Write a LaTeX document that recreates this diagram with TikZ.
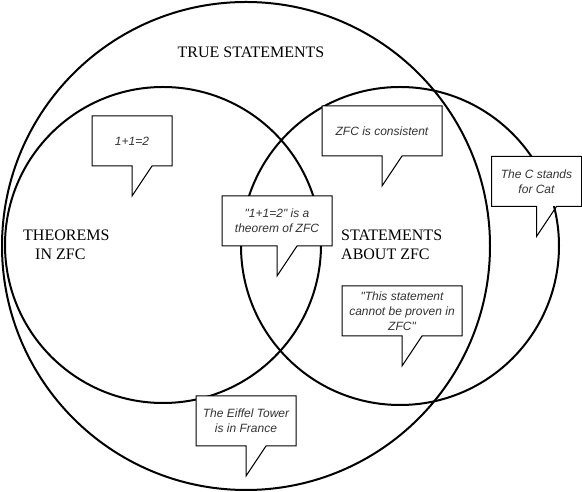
\documentclass[tikz,border=0pt]{standalone}
\usepackage{fontspec}
\setmainfont{Liberation Serif}
\setsansfont{Liberation Sans}
\usetikzlibrary{shapes,arrows,positioning,calc}

\begin{document}
\begin{tikzpicture}[x=1pt, y=1pt]
    \tikzstyle{set} = [circle, draw, line width=2pt, inner sep=0pt]
    \tikzstyle{setname} = [inner sep=0pt, align=left, font=\fontsize{16}{19}\selectfont]
    \tikzstyle{note} = [rectangle, fill=white, inner sep=0pt, outer sep=0pt, minimum height=50pt, align=center, text=black!80, font=\sffamily\itshape\fontsize{12}{15}\selectfont]
    \tikzstyle{bubble} = [draw, line width=1pt, line join=miter]

    \useasboundingbox (0,0) rectangle (582,492);

    % Sets
    \node[set, minimum size=488pt] (true) at (246,246) {};
    \node[set, minimum size=316pt] (thm) at (163,247) {};
    \node[set, minimum size=318pt] (about) at (400,246) {};

    % Set names
    \node[setname] (truename) at (251,440) {TRUE STATEMENTS};
    \node[setname, anchor=west] (thmname) at (23,247.5) {THEOREMS\\\hspace*{12pt}IN ZFC};
    \node[setname, anchor=west] (aboutname) at (341,247.5) {STATEMENTS\\ABOUT ZFC};

    % Notes
    \node[note, minimum width=80pt] (sum) at (132,351) {1+1=2};
    \node[note, minimum width=120pt] (consistent) at (382,361) {ZFC is consistent};
    \node[note, minimum width=110pt] (provable) at (277,271) {\textquotedbl 1+1=2\textquotedbl{} is a\\theorem of ZFC};
    \node[note, minimum width=90pt] (cat) at (536.5,310.5) {The C stands\\for Cat};
    \node[note, minimum width=120pt] (godel) at (402,181) {\textquotedbl This statement\\cannot be proven in\\ZFC\textquotedbl};
    \node[note, minimum width=100pt] (eiffel) at (246,71) {The Eiffel Tower\\is in France};

    % Bubble outlines
    \draw[bubble] (sum.south) -- ++(0,-30) -- ++(20,30) -- (sum.south east) -- (sum.north east) -- (sum.north west) -- (sum.south west) -- cycle;
    \draw[bubble] (consistent.south) -- ++(0,-30) -- ++(20,30) -- (consistent.south east) -- (consistent.north east) -- (consistent.north west) -- (consistent.south west) -- cycle;
    \draw[bubble] (provable.south) -- ++(0,-30) -- ++(20,30) -- (provable.south east) -- (provable.north east) -- (provable.north west) -- (provable.south west) -- cycle;
    \draw[bubble] (cat.south) -- ++(0,-30) -- ++(20,30) -- (cat.south east) -- (cat.north east) -- (cat.north west) -- (cat.south west) -- cycle;
    \draw[bubble] (godel.south) -- ++(0,-30) -- ++(20,30) -- (godel.south east) -- (godel.north east) -- (godel.north west) -- (godel.south west) -- cycle;
    \draw[bubble] (eiffel.south) -- ++(0,-30) -- ++(20,30) -- (eiffel.south east) -- (eiffel.north east) -- (eiffel.north west) -- (eiffel.south west) -- cycle;
\end{tikzpicture}
\end{document}
